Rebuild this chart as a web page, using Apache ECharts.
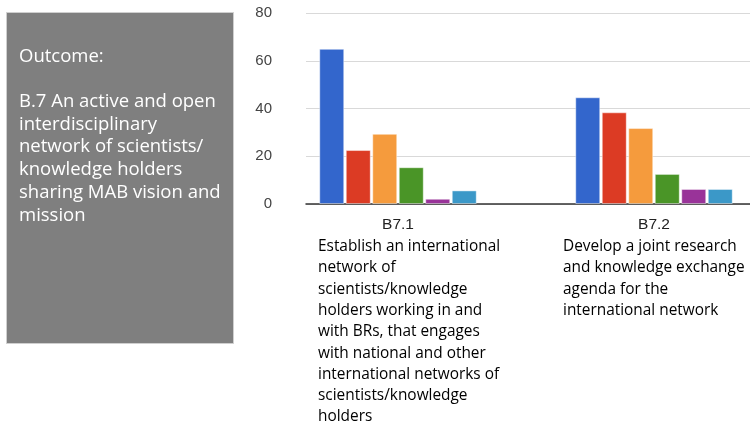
<!DOCTYPE html>
<html>
<head>
<meta charset="utf-8">
<script src="https://cdn.jsdelivr.net/npm/echarts@6/dist/echarts.min.js"></script>
<style>
  html, body { margin: 0; padding: 0; background: #fff; }
  #chart { width: 750px; height: 425px; }
</style>
</head>
<body>
<div id="chart"></div>
<script>
// 数据
const categories = ["B7.1", "B7.2"];
const descriptions = [
  [
    "Establish an international",
    "network of",
    "scientists/knowledge",
    "holders working in and",
    "with BRs, that engages",
    "with national and other",
    "international networks of",
    "scientists/knowledge",
    "holders",
  ],
  [
    "Develop a joint research",
    "and knowledge exchange",
    "agenda for the",
    "international network",
  ],
];
const seriesNames = ["Series 1", "Series 2", "Series 3", "Series 4", "Series 5", "Series 6"];
const series1 = [65, 44.7];
const series2 = [22.6, 38.4];
const series3 = [29.4, 31.8];
const series4 = [15.4, 12.6];
const series5 = [2.2, 6.3];
const series6 = [5.7, 6.3];
const yTicks = { min: 0, max: 80, interval: 20 };
const outcomeLines = [
  "Outcome:",
  "",
  "B.7 An active and open",
  "interdisciplinary",
  "network of scientists/",
  "knowledge holders",
  "sharing MAB vision and",
  "mission",
];

const colors = ["#3366cc", "#dc3b24", "#f59b3d", "#4a9527", "#993399", "#3b98c8"];
const allSeries = [series1, series2, series3, series4, series5, series6];

const chart = echarts.init(document.getElementById("chart"));

const option = {
  animation: false,
  grid: [
    // 网格线和y轴
    { left: 306, right: 0, top: 13, bottom: 221, outerBoundsMode: "none" },
    // 柱子 (分类区间比画布宽)
    { left: 270, width: 512, top: 13, bottom: 221, outerBoundsMode: "none" },
  ],
  xAxis: [
    {
      gridIndex: 0,
      type: "category",
      data: categories,
      axisLine: { lineStyle: { color: "#333", width: 1.5 } },
      axisTick: { show: false },
      axisLabel: { show: false },
    },
    {
      gridIndex: 1,
      type: "category",
      data: categories,
      axisLine: { show: false },
      axisTick: { show: false },
      axisLabel: {
        interval: 0,
        margin: 10,
        formatter: (value, idx) => {
          const st = idx === 0 ? "d1" : "d";
          const lines = descriptions[idx].map((l) => `{${st}|${l}}`);
          return `{h|${value}}\n` + lines.join("\n");
        },
        rich: {
          h: {
            fontFamily: "Liberation Sans",
            fontSize: 15.5,
            color: "#222",
            lineHeight: 22,
            align: "center",
          },
          d: {
            fontFamily: "Open Sans",
            fontSize: 15.4,
            color: "#000",
            lineHeight: 21.3,
            align: "left",
            width: 182,
          },
          d1: {
            fontFamily: "Open Sans",
            fontSize: 15.4,
            color: "#000",
            lineHeight: 21.3,
            align: "left",
            width: 182,
            padding: [0, 0, 0, 22],
          },
        },
      },
    },
  ],
  yAxis: [
    {
      gridIndex: 0,
      type: "value",
      min: yTicks.min,
      max: yTicks.max,
      interval: yTicks.interval,
      axisLine: { show: false },
      axisTick: { show: false },
      axisLabel: {
        margin: 34,
        color: "#444",
        fontSize: 15,
        fontFamily: "Liberation Sans",
      },
      splitLine: { lineStyle: { color: "#d9d9d9", width: 1 } },
    },
    {
      gridIndex: 1,
      type: "value",
      min: yTicks.min,
      max: yTicks.max,
      show: false,
    },
  ],
  series: allSeries.map((data, i) => ({
    name: seriesNames[i],
    type: "bar",
    xAxisIndex: 1,
    yAxisIndex: 1,
    data: data,
    barWidth: 25,
    barGap: "6%",
    itemStyle: {
      color: colors[i],
      borderColor: "rgba(255,255,255,0.45)",
      borderWidth: 1,
    },
  })),
  graphic: [
    {
      type: "rect",
      left: 6,
      top: 12,
      shape: { width: 227, height: 331 },
      style: { fill: "#7f7f7f", stroke: "#cfcfcf", lineWidth: 1 },
    },
    {
      type: "text",
      left: 19,
      top: 45,
      style: {
        text: outcomeLines.join("\n"),
        fill: "#fff",
        fontFamily: "Open Sans",
        fontSize: 18.5,
        lineHeight: 22.7,
      },
    },
  ],
};

chart.setOption(option);
window.addEventListener("resize", () => chart.resize());
</script>
</body>
</html>
